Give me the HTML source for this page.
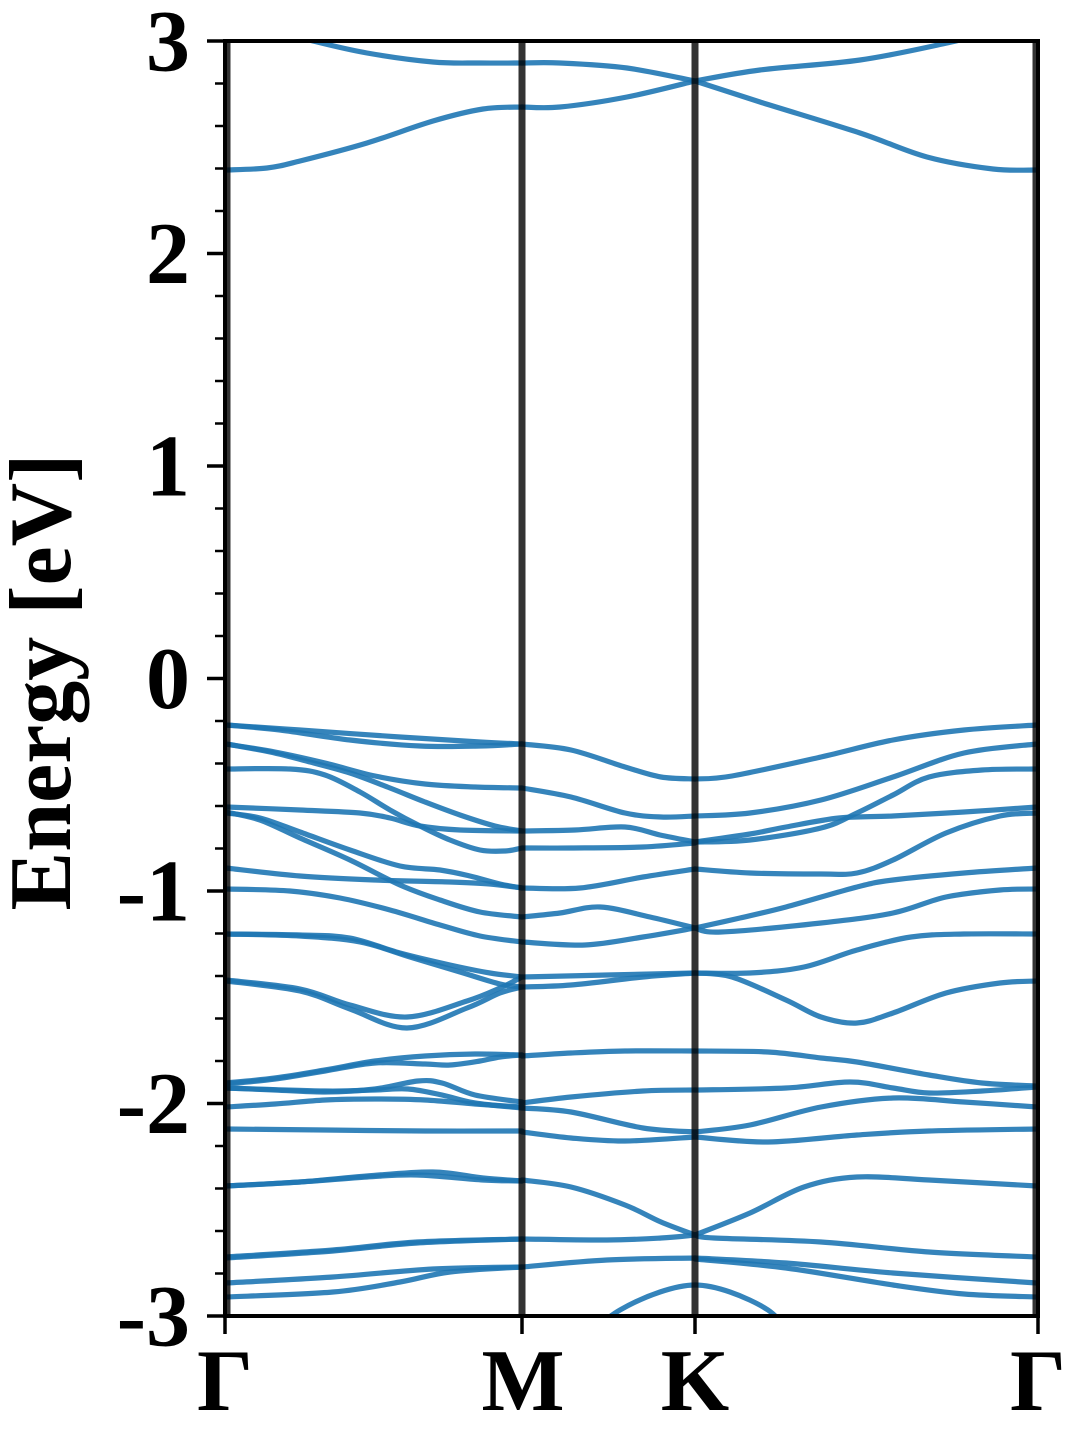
<!DOCTYPE html>
<html>
<head>
<meta charset="utf-8">
<style>
  html,body{margin:0;padding:0;background:#fff;}
  svg{display:block;}
  .b{fill:none;stroke:#1f77b4;stroke-opacity:0.9;stroke-width:5.2;stroke-linecap:round;stroke-linejoin:round;}
  .lbl{font-family:"Liberation Serif","DejaVu Serif",serif;font-weight:bold;font-size:88px;fill:#000;}
</style>
</head>
<body>
<svg id="s" width="1080" height="1440" viewBox="0 0 1080 1440" xmlns="http://www.w3.org/2000/svg">
  <defs>
    <clipPath id="cp"><rect x="225" y="41" width="813" height="1275"/></clipPath>
  </defs>
  <rect width="1080" height="1440" fill="#fff"/>
  <g clip-path="url(#cp)" id="bands">
    <!-- conduction -->
    <polyline class="b" points="226,16 270,29 313,41 367,53 433,62 480,63 522,63"/>
    <polyline class="b" points="226,170 267,168 300,161 367,143 433,121 483,109 522,107"/>
    <polyline class="b" points="522,63 560,63 627,68 695,81"/>
    <polyline class="b" points="522,107 560,107 627,97 695,81"/>
    <polyline class="b" points="695,81 760,102 860,133 927,157 993,169 1037,170"/>
    <polyline class="b" points="695,81 760,70 860,60 947,43 990,32 1037,20"/>

    <!-- valence G-M -->
    <polyline class="b" points="226,725 300,730 400,737 480,742 522,744"/>
    <polyline class="b" points="226,725 280,730 350,740 420,746 480,746 522,744"/>
    <polyline class="b" points="226,744 275,752 325,763 375,776 425,784 475,787 522,788"/>
    <polyline class="b" points="226,744 270,752 310,762 350,773 390,788 425,802 460,815 495,826 522,831"/>
    <polyline class="b" points="226,769 290,769 325,775 360,792 390,810 420,826 450,840 480,850 505,851 522,848"/>
    <polyline class="b" points="226,807 300,810 360,813 390,818 420,826 460,830 522,831"/>
    <polyline class="b" points="226,813 260,818 300,832 350,850 400,866 440,870 470,876 500,884 522,888"/>
    <polyline class="b" points="226,812 260,820 300,838 350,860 400,885 440,900 480,912 522,917"/>
    <polyline class="b" points="226,868 300,876 375,880 450,882 490,884 522,888"/>
    <polyline class="b" points="226,889 290,891 340,898 390,910 440,925 480,936 522,942"/>
    <polyline class="b" points="226,934 300,935 350,938 400,953 450,965 490,973 522,977"/>
    <polyline class="b" points="226,934 300,936 360,942 410,957 460,972 500,984 522,987"/>
    <polyline class="b" points="226,980 300,989 350,1005 407,1017 467,1001 500,988 522,977"/>
    <polyline class="b" points="226,981 300,991 350,1009 407,1028 467,1008 500,993 522,987"/>
    <polyline class="b" points="226,1083 275,1078 325,1070 375,1061 425,1056 475,1054 522,1055"/>
    <polyline class="b" points="226,1084 275,1079 325,1071 375,1063 425,1064 450,1065 480,1061 500,1057 522,1055"/>
    <polyline class="b" points="226,1088 275,1090 325,1092 375,1089 418,1081 442,1083 475,1095 522,1102"/>
    <polyline class="b" points="226,1088 325,1091 375,1090 408,1089 442,1095 475,1103 522,1108"/>
    <polyline class="b" points="226,1107 275,1104 325,1100 375,1099 425,1100 475,1104 522,1107"/>
    <polyline class="b" points="226,1129 325,1130 425,1131 522,1131"/>
    <polyline class="b" points="226,1186 300,1182 367,1176 433,1172 483,1178 522,1181"/>
    <polyline class="b" points="226,1186 300,1182 367,1177 417,1175 483,1180 522,1181"/>
    <polyline class="b" points="226,1257 333,1250 417,1242 522,1239"/>
    <polyline class="b" points="226,1258 333,1251 417,1243 522,1239"/>
    <polyline class="b" points="226,1283 333,1277 433,1269 522,1267"/>
    <polyline class="b" points="226,1297 333,1292 400,1282 450,1272 522,1267"/>

    <!-- valence M-K -->
    <polyline class="b" points="522,744 571,750 625,767 661,777 695,779"/>
    <polyline class="b" points="522,788 571,797 625,813 661,817 695,816"/>
    <polyline class="b" points="522,831 575,830 625,827 660,835 695,842"/>
    <polyline class="b" points="522,848 571,848 643,847 695,843"/>
    <polyline class="b" points="522,888 580,888 643,877 695,869"/>
    <polyline class="b" points="522,917 560,913 600,907 650,917 695,928"/>
    <polyline class="b" points="522,942 585,945 643,937 695,928"/>
    <polyline class="b" points="522,977 607,975 695,973"/>
    <polyline class="b" points="522,987 571,985 643,977 695,973"/>
    <polyline class="b" points="522,1056 571,1053 625,1051 695,1051"/>
    <polyline class="b" points="522,1103 571,1097 643,1091 695,1090"/>
    <polyline class="b" points="522,1108 571,1112 643,1128 695,1132"/>
    <polyline class="b" points="522,1132 571,1138 625,1141 695,1137"/>
    <polyline class="b" points="522,1180 571,1187 625,1205 661,1222 695,1235"/>
    <polyline class="b" points="522,1239 607,1240 661,1238 695,1235"/>
    <polyline class="b" points="522,1267 607,1260 695,1258"/>
    <polyline class="b" points="590,1332 620,1310 660,1292 695,1285 730,1292 768,1310 790,1332"/>

    <!-- valence K-G -->
    <polyline class="b" points="695,779 732,776 821,757 893,740 964,730 1037,725"/>
    <polyline class="b" points="695,816 750,813 821,800 893,777 964,753 1037,744"/>
    <polyline class="b" points="695,842 750,840 821,828 857,813 893,795 929,777 982,770 1037,769"/>
    <polyline class="b" points="695,842 750,834 786,827 839,818 893,816 964,812 1037,807"/>
    <polyline class="b" points="695,869 750,873 821,874 857,873 893,860 946,833 1000,816 1037,813"/>
    <polyline class="b" points="695,928 740,918 786,907 857,887 893,880 964,873 1037,868"/>
    <polyline class="b" points="695,928 721,932 821,923 893,913 946,897 1000,890 1037,889"/>
    <polyline class="b" points="695,973 750,973 804,967 857,950 911,937 964,934 1037,934"/>
    <polyline class="b" points="695,973 732,977 786,1000 821,1017 857,1023 893,1013 946,993 1000,983 1037,981"/>
    <polyline class="b" points="695,1051 768,1052 821,1058 857,1062 929,1075 982,1083 1037,1086"/>
    <polyline class="b" points="695,1090 786,1088 850,1082 893,1088 929,1093 982,1091 1037,1087"/>
    <polyline class="b" points="695,1132 750,1125 821,1107 893,1098 964,1102 1037,1107"/>
    <polyline class="b" points="695,1137 768,1142 857,1135 929,1131 1037,1129"/>
    <polyline class="b" points="695,1235 750,1213 804,1187 857,1177 929,1180 1037,1186"/>
    <polyline class="b" points="695,1235 714,1238 821,1242 929,1252 1037,1257"/>
    <polyline class="b" points="695,1258 786,1263 893,1273 1037,1283"/>
    <polyline class="b" points="695,1259 786,1268 893,1285 964,1294 1037,1297"/>
  </g>

  <!-- high-symmetry vertical lines -->
  <g stroke="#000" stroke-opacity="0.8" stroke-width="7">
    <line x1="522" y1="41" x2="522" y2="1316"/>
    <line x1="695" y1="41" x2="695" y2="1316"/>
    <line x1="228" y1="41" x2="228" y2="1316" stroke-width="5"/>
    <line x1="1035" y1="41" x2="1035" y2="1316" stroke-width="5"/>
  </g>

  <!-- spines -->
  <rect x="225" y="41" width="813" height="1275" fill="none" stroke="#000" stroke-width="4"/>

  <!-- x ticks -->
  <g stroke="#000" stroke-width="3.5">
    <line x1="225" y1="1316" x2="225" y2="1334"/>
    <line x1="522" y1="1316" x2="522" y2="1334"/>
    <line x1="695" y1="1316" x2="695" y2="1334"/>
    <line x1="1038" y1="1316" x2="1038" y2="1334"/>
  </g>

  <!-- y tick labels -->
  <g class="lbl" text-anchor="end">
    <text x="190" y="70.5">3</text>
    <text x="190" y="283">2</text>
    <text x="190" y="495.5">1</text>
    <text x="190" y="708">0</text>
    <text x="190" y="920.5">-1</text>
    <text x="190" y="1133">-2</text>
    <text x="190" y="1345.5">-3</text>
  </g>
  <!-- x tick labels -->
  <g class="lbl" text-anchor="middle">
    <text x="225" y="1410">Γ</text>
    <text x="523" y="1410">M</text>
    <text x="695" y="1410">K</text>
    <text x="1038" y="1410">Γ</text>
  </g>
  <!-- y axis label -->
  <text class="lbl" text-anchor="middle" transform="translate(70,682) rotate(-90)">Energy [eV]</text>

  <!-- y ticks (major + minor) -->
  <g stroke="#000" stroke-width="3.5">
    <line x1="207" y1="41" x2="225" y2="41"/>
    <line x1="207" y1="253.5" x2="225" y2="253.5"/>
    <line x1="207" y1="466" x2="225" y2="466"/>
    <line x1="207" y1="678.5" x2="225" y2="678.5"/>
    <line x1="207" y1="891" x2="225" y2="891"/>
    <line x1="207" y1="1103.5" x2="225" y2="1103.5"/>
    <line x1="207" y1="1316" x2="225" y2="1316"/>
  </g>
  <g stroke="#000" stroke-width="2.5">
    <line x1="215" y1="83.5" x2="225" y2="83.5"/>
    <line x1="215" y1="126" x2="225" y2="126"/>
    <line x1="215" y1="168.5" x2="225" y2="168.5"/>
    <line x1="215" y1="211" x2="225" y2="211"/>
    <line x1="215" y1="296" x2="225" y2="296"/>
    <line x1="215" y1="338.5" x2="225" y2="338.5"/>
    <line x1="215" y1="381" x2="225" y2="381"/>
    <line x1="215" y1="423.5" x2="225" y2="423.5"/>
    <line x1="215" y1="508.5" x2="225" y2="508.5"/>
    <line x1="215" y1="551" x2="225" y2="551"/>
    <line x1="215" y1="593.5" x2="225" y2="593.5"/>
    <line x1="215" y1="636" x2="225" y2="636"/>
    <line x1="215" y1="721" x2="225" y2="721"/>
    <line x1="215" y1="763.5" x2="225" y2="763.5"/>
    <line x1="215" y1="806" x2="225" y2="806"/>
    <line x1="215" y1="848.5" x2="225" y2="848.5"/>
    <line x1="215" y1="933.5" x2="225" y2="933.5"/>
    <line x1="215" y1="976" x2="225" y2="976"/>
    <line x1="215" y1="1018.5" x2="225" y2="1018.5"/>
    <line x1="215" y1="1061" x2="225" y2="1061"/>
    <line x1="215" y1="1146" x2="225" y2="1146"/>
    <line x1="215" y1="1188.5" x2="225" y2="1188.5"/>
    <line x1="215" y1="1231" x2="225" y2="1231"/>
    <line x1="215" y1="1273.5" x2="225" y2="1273.5"/>
  </g>
</svg>
<script>
(function(){
  var NS='http://www.w3.org/2000/svg';
  var pls=document.querySelectorAll('#bands polyline');
  for(var k=0;k<pls.length;k++){
    var pl=pls[k];
    var raw=pl.getAttribute('points').trim().split(/\s+/);
    var pts=raw.map(function(s){var a=s.split(',');return [parseFloat(a[0]),parseFloat(a[1])];});
    var d='M'+pts[0][0]+','+pts[0][1];
    for(var i=0;i<pts.length-1;i++){
      var p0=pts[i-1]||pts[i],p1=pts[i],p2=pts[i+1],p3=pts[i+2]||pts[i+1];
      var c1x=p1[0]+(p2[0]-p0[0])/6,c1y=p1[1]+(p2[1]-p0[1])/6;
      var c2x=p2[0]-(p3[0]-p1[0])/6,c2y=p2[1]-(p3[1]-p1[1])/6;
      d+=' C'+c1x.toFixed(2)+','+c1y.toFixed(2)+' '+c2x.toFixed(2)+','+c2y.toFixed(2)+' '+p2[0]+','+p2[1];
    }
    var p=document.createElementNS(NS,'path');
    p.setAttribute('d',d);
    p.setAttribute('class','b');
    pl.parentNode.replaceChild(p,pl);
  }
})();
</script>
</body>
</html>
